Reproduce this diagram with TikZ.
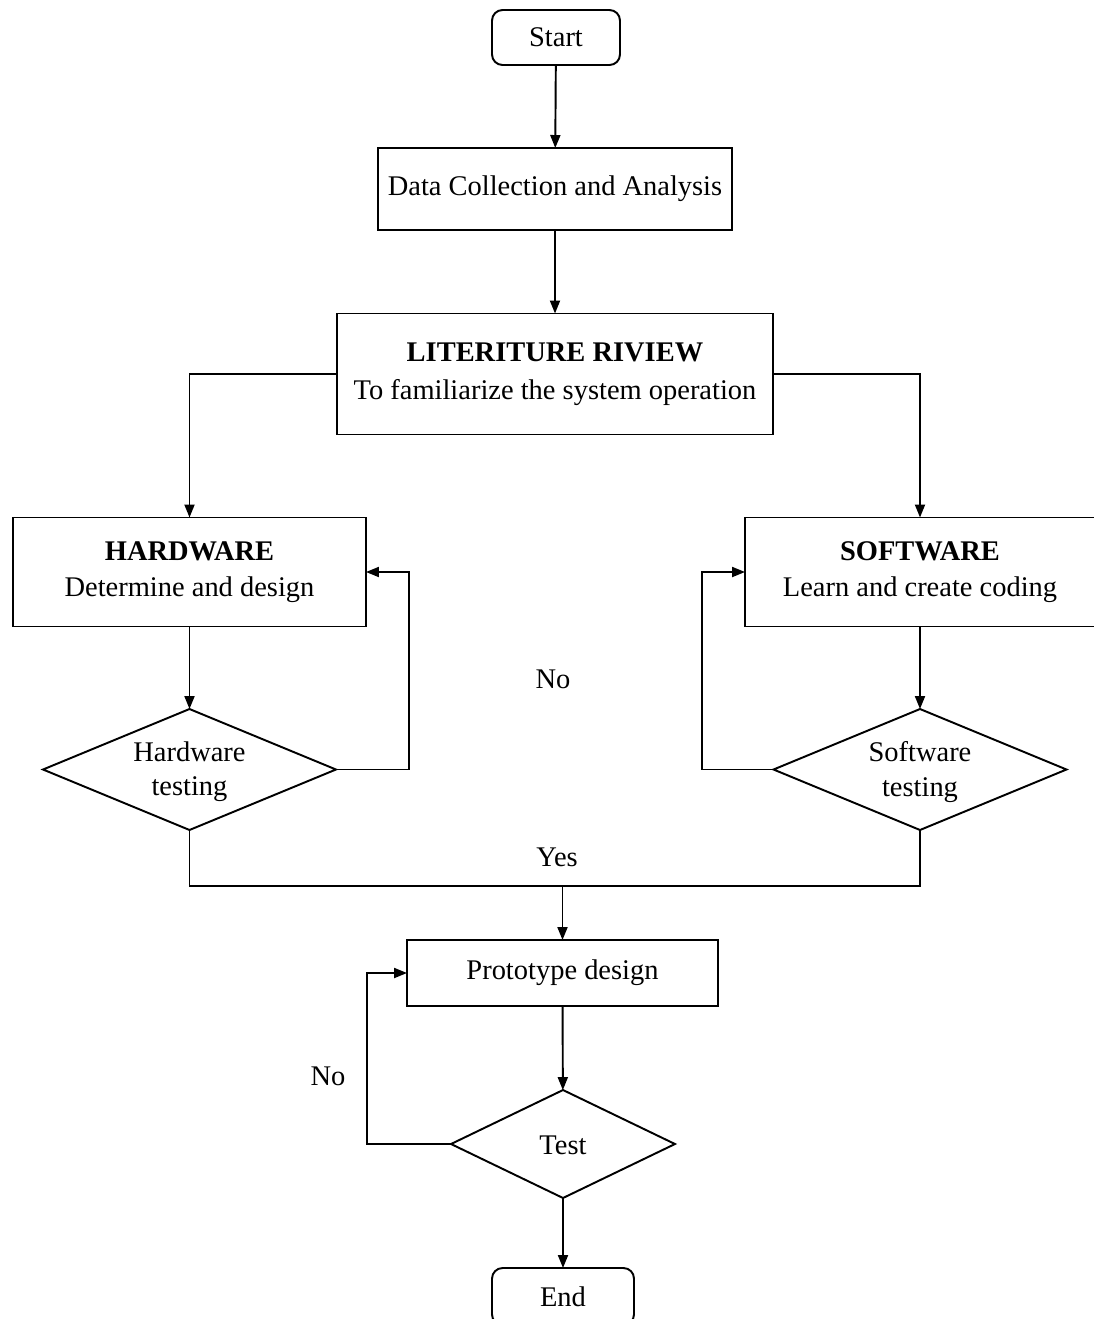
\documentclass[tikz,border=0pt]{standalone}
\usepackage{fontspec}
\setmainfont{Liberation Serif}
\usetikzlibrary{shapes.geometric,arrows.meta}
\begin{document}
\begin{tikzpicture}[x=0.02cm,y=-0.02cm,
  font=\fontsize{16.2}{19.5}\selectfont,
  line width=1.1pt,
  box/.style={draw,rectangle,inner sep=0pt,outer sep=0pt,align=center},
  term/.style={draw,rectangle,rounded corners=6pt,inner sep=0pt,outer sep=0pt,align=center},
  dec/.style={draw,diamond,inner sep=0pt,outer sep=0pt},
  txt/.style={inner sep=0pt,align=center},
  arr/.style={-{Triangle[length=0.26cm,width=0.2cm]}},
  lbl/.style={inner sep=0pt}]
\useasboundingbox (0,0) rectangle (1093,1319);
\node[term,minimum width=2.56cm,minimum height=1.1cm] (start) at (556,37.5) {Start};
\node[box,minimum width=7.08cm,minimum height=1.64cm] (data) at (555,189) {Data Collection and Analysis};
\node[box,minimum width=8.72cm,minimum height=2.42cm,font=\fontsize{16.2}{21.5}\selectfont] (lit) at (555,374) {\textbf{LITERITURE RIVIEW}\\To familiarize the system operation};
\node[box,minimum width=7.06cm,minimum height=2.18cm,font=\fontsize{16.2}{20.5}\selectfont] (hw) at (189.5,572) {\textbf{HARDWARE}\\Determine and design};
\node[box,minimum width=7.0cm,minimum height=2.18cm,font=\fontsize{16.2}{20.5}\selectfont] (sw) at (920,572) {\textbf{SOFTWARE}\\Learn and create coding};
\node[dec,minimum width=5.86cm,minimum height=2.42cm] (hwd) at (189.5,769.5) {};
\node[txt] (hwdt) at (189.5,772) {Hardware\\testing};
\node[dec,minimum width=5.86cm,minimum height=2.42cm] (swd) at (920,769.5) {};
\node[txt] (swdt) at (920,772) {Software\\testing};
\node[box,minimum width=6.22cm,minimum height=1.32cm] (proto) at (562.5,973) {Prototype design};
\node[dec,minimum width=4.48cm,minimum height=2.16cm] (test) at (563,1144) {};
\node[txt] (testt) at (563,1145) {Test};
\node[term,minimum width=2.84cm,minimum height=1.14cm] (end) at (563,1296.5) {End};
\node[lbl] (no1) at (553,679) {No};
\node[lbl] (yes) at (557,857) {Yes};
\node[lbl] (no2) at (328,1076) {No};
\coordinate (j) at (562.5,886);
\draw[arr] (start) -- (data);
\draw[arr] (data) -- (lit);
\draw[arr] (lit.west) -| (hw.north);
\draw[arr] (lit.east) -| (sw.north);
\draw[arr] (hw) -- (hwd);
\draw[arr] (sw) -- (swd);
\draw[arr] (hwd.east) -- ++(73,0) |- (hw.east);
\draw[arr] (swd.west) -- ++(-72,0) |- (sw.west);
\draw (hwd.south) |- (j) -| (swd.south);
\draw[arr] (j) -- (proto.north);
\draw[arr] (proto) -- (test);
\draw[arr] (test.west) -- ++(-84,0) |- (proto.west);
\draw[arr] (test) -- (end);
\end{tikzpicture}
\end{document}
